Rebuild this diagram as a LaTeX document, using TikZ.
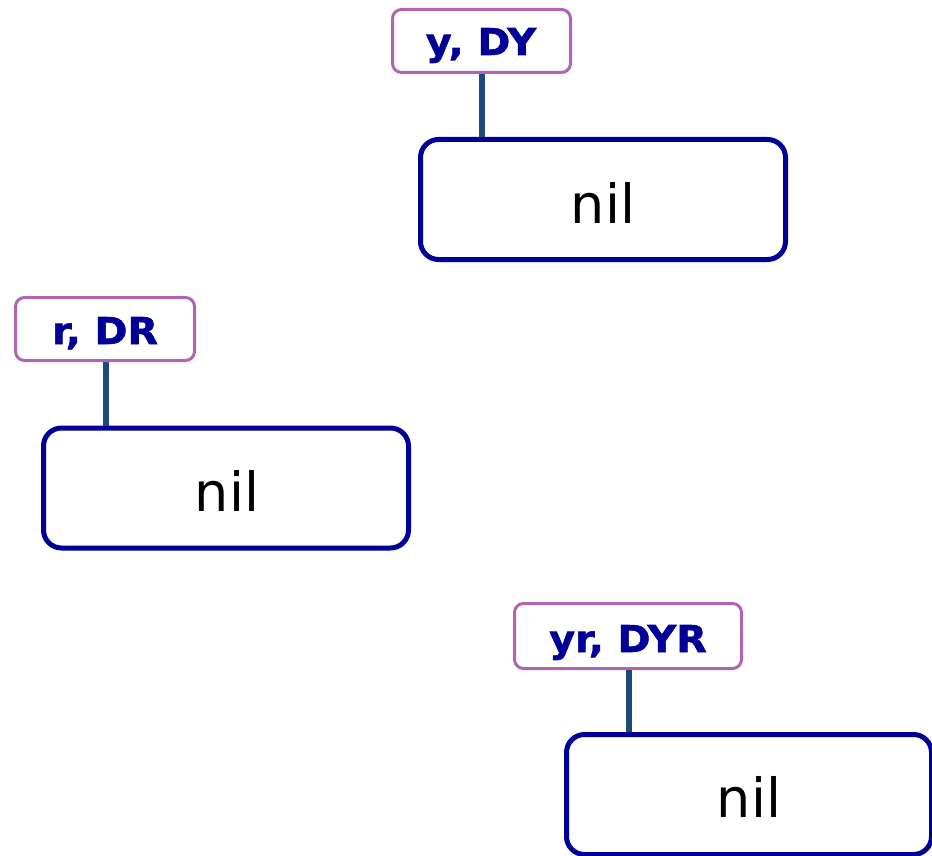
\documentclass[tikz,border=0pt]{standalone}
\usepackage{fontspec}
\setmainfont{DejaVu Sans}
\newfontfamily\tagfont{DejaVu Sans Bold}[FakeBold=1.6,FakeStretch=1.07]
\definecolor{tagedge}{HTML}{B164B4}
\definecolor{navy}{HTML}{000099}
\definecolor{stem}{HTML}{1F4A7A}
\begin{document}
\begin{tikzpicture}[x=1pt,y=-1pt,
  tagbox/.style={draw=tagedge,line width=3pt,rounded corners=9pt,fill=white,
    inner sep=0pt},
  tagtext/.style={inner sep=0pt,text=navy,font=\fontsize{37}{42}\tagfont},
  nilbox/.style={draw=navy,line width=5pt,rounded corners=18pt,fill=white,
    inner sep=0pt,minimum width=365pt,minimum height=120pt},
  niltext/.style={inner sep=0pt,font=\fontsize{54}{60}\selectfont},
  stemline/.style={draw=stem,line width=5.5pt}]
\useasboundingbox (0,0) rectangle (932,856);

% upper pair
\node[tagbox,minimum width=178pt,minimum height=63pt] (ytag) at (481.5,41) {};
\node[tagtext,anchor=base] (ytxt) at (481,55) {y, DY};
\node[nilbox] (ynil) at (603,199.5) {};
\node[niltext,anchor=base] (ynilt) at (603,223) {nil};
\coordinate (ystem) at (482,137);
\draw[stemline] (ytag.south -| ystem) -- (ystem);

% left pair
\node[tagbox,minimum width=179pt,minimum height=63pt] (rtag) at (105,329) {};
\node[tagtext,anchor=base] (rtxt) at (105,344) {r, DR};
\node[nilbox] (rnil) at (226,488) {};
\node[niltext,anchor=base] (rnilt) at (227,511) {nil};
\coordinate (rstem) at (106,426);
\draw[stemline] (rtag.south -| rstem) -- (rstem);

% lower pair
\node[tagbox,minimum width=227pt,minimum height=65pt] (yrtag) at (628,636) {};
\node[tagtext,anchor=base] (yrtxt) at (628,652) {yr, DYR};
\node[nilbox] (yrnil) at (749,794.5) {};
\node[niltext,anchor=base] (yrnilt) at (749,817) {nil};
\coordinate (yrstem) at (629,732);
\draw[stemline] (yrtag.south -| yrstem) -- (yrstem);
\end{tikzpicture}
\end{document}
